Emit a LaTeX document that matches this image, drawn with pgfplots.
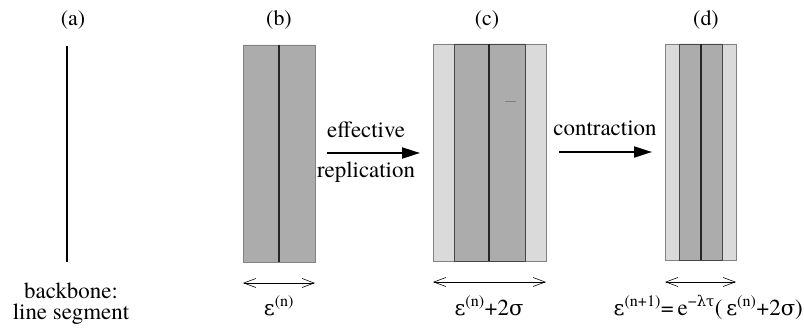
\documentclass[border=0pt]{standalone}
\usepackage{fontspec}
\setmainfont{TeX Gyre Termes}
\setsansfont{TeX Gyre Termes}
\newfontfamily\gr{DejaVu Serif}[Scale=0.92]
\renewcommand\familydefault{\rmdefault}
\usepackage{pgfplots}
\pgfplotsset{compat=1.18}
\usetikzlibrary{arrows.meta}
\definecolor{darkband}{RGB}{172,172,172}
\definecolor{lightband}{RGB}{218,218,218}
\definecolor{edge}{RGB}{130,130,130}
\definecolor{inner}{RGB}{70,70,70}
\begin{document}
\rmfamily
\begin{tikzpicture}[every node/.append style={font=\rmfamily}]
\begin{axis}[
  name=ax,
  scale only axis, width=804bp, height=328bp,
  xmin=0, xmax=804, ymin=0, ymax=328, y dir=reverse,
  hide axis, clip=false,
  every axis plot/.append style={mark=none},
]
% (a) backbone
\addplot[black, line width=1.8pt] coordinates {(67,46) (67,262)};
% (b)
\addplot[fill=darkband, draw=edge, line width=0.8pt] coordinates {(243,45) (315,45) (315,262) (243,262) (243,45)};
\addplot[black!85, line width=1.8pt] coordinates {(279,45) (279,262)};
% (c)
\addplot[fill=lightband, draw=edge, line width=0.8pt] coordinates {(433,44) (546,44) (546,261) (433,261) (433,44)};
\addplot[fill=darkband, draw=inner, line width=1pt] coordinates {(454,44) (525,44) (525,261) (454,261) (454,44)};
\addplot[black!85, line width=1.8pt] coordinates {(489,44) (489,261)};
\addplot[gray, line width=1pt] coordinates {(505,101) (516,101)};
% (d)
\addplot[fill=lightband, draw=edge, line width=0.8pt] coordinates {(665,44) (736,44) (736,260) (665,260) (665,44)};
\addplot[fill=darkband, draw=inner, line width=1pt] coordinates {(679,44) (722,44) (722,260) (679,260) (679,44)};
\addplot[black!85, line width=1.8pt] coordinates {(701,44) (701,260)};
% width arrows
\addplot[black, line width=0.6pt, {Straight Barb[length=12pt,width=9pt]}-{Straight Barb[length=12pt,width=9pt]}] coordinates {(243,283) (315,283)};
\addplot[black, line width=0.6pt, {Straight Barb[length=12pt,width=9pt]}-{Straight Barb[length=12pt,width=9pt]}] coordinates {(433,282) (546,282)};
\addplot[black, line width=0.6pt, {Straight Barb[length=12pt,width=9pt]}-{Straight Barb[length=12pt,width=9pt]}] coordinates {(665,282) (736,282)};
% process arrows
\addplot[black, line width=2pt, -{Triangle[length=18pt,width=11pt]}] coordinates {(327,153) (420,153)};
\addplot[black, line width=2pt, -{Triangle[length=18pt,width=11pt]}] coordinates {(559,152) (652,152)};
% labels
\node[font=\rmfamily\fontsize{22}{24}\selectfont, anchor=base] at (axis cs:73,26) {(a)};
\node[font=\rmfamily\fontsize{22}{24}\selectfont, anchor=base] at (axis cs:279,26) {(b)};
\node[font=\rmfamily\fontsize{22}{24}\selectfont, anchor=base] at (axis cs:487,26) {(c)};
\node[font=\rmfamily\fontsize{22}{24}\selectfont, anchor=base] at (axis cs:706,26) {(d)};
\node[font=\rmfamily\fontsize{23}{24}\selectfont, anchor=base] at (axis cs:71,298) {backbone:};
\node[font=\rmfamily\fontsize{23}{24}\selectfont, anchor=base] at (axis cs:71,319) {line segment};
\node[font=\rmfamily\fontsize{23}{24}\selectfont, anchor=base] at (axis cs:366,137) {effective};
\node[font=\rmfamily\fontsize{23}{24}\selectfont, anchor=base] at (axis cs:366,177) {replication};
\node[font=\rmfamily\fontsize{23}{24}\selectfont, anchor=base] at (axis cs:605,135) {contraction};
\node[font=\rmfamily\fontsize{23}{24}\selectfont, anchor=base] at (axis cs:279,315) {{\gr ε}\textsuperscript{(n)}};
\node[font=\rmfamily\fontsize{23}{24}\selectfont, anchor=base] at (axis cs:489,315) {{\gr ε}\textsuperscript{(n)}+2{\gr σ}};
\node[font=\rmfamily\fontsize{23}{24}\selectfont, inner sep=0pt, anchor=base east] at (axis cs:803,315) {{\gr ε}\textsuperscript{(n+1)}=\,e\textsuperscript{−{\gr λτ}}(\,{\gr ε}\textsuperscript{(n)}+2{\gr σ})};
\end{axis}
\pgfresetboundingbox
\useasboundingbox (ax.south west) rectangle (ax.north east);
\end{tikzpicture}
\end{document}
